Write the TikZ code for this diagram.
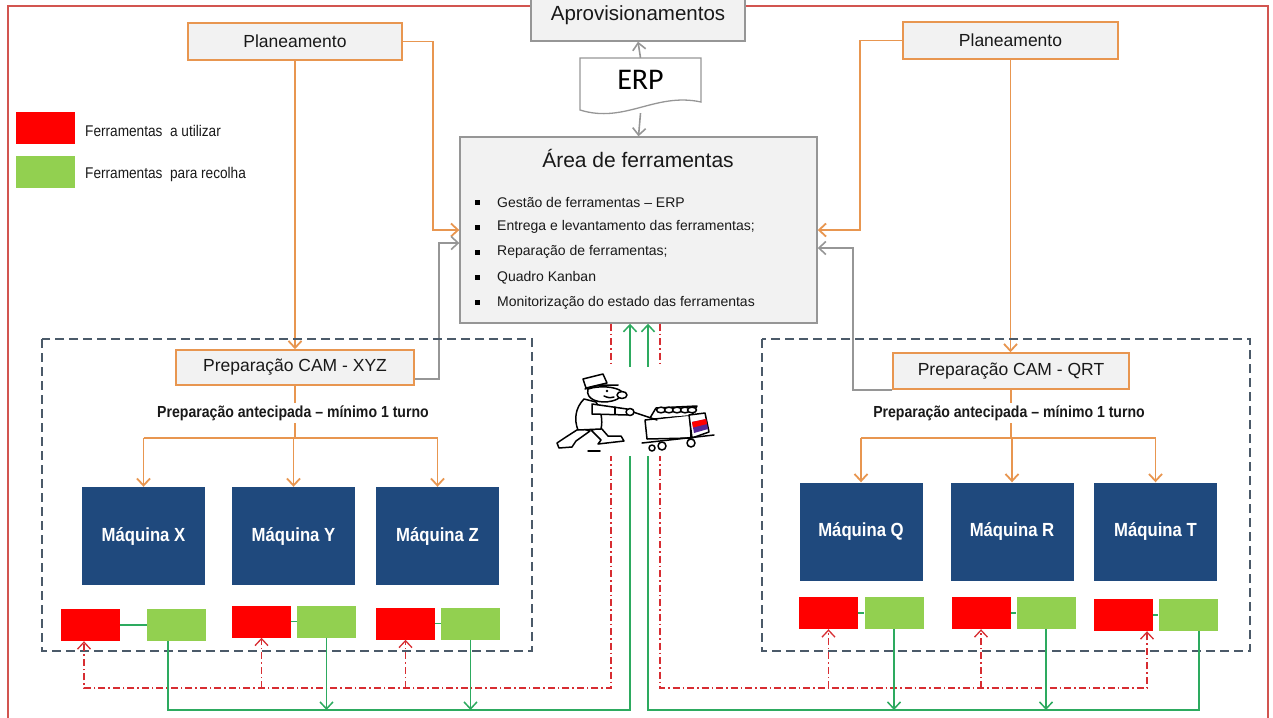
\documentclass[tikz,border=0pt]{standalone}
\usepackage{fontspec}
\setmainfont{Liberation Sans}
\newfontfamily\narrowfont{Liberation Sans}[FakeStretch=0.88]
\newfontfamily\erpfont{Carlito}
\usetikzlibrary{arrows.meta}

\definecolor{planorange}{RGB}{232,150,80}
\definecolor{boxgray}{RGB}{242,242,242}
\definecolor{linegray}{RGB}{150,150,150}
\definecolor{groupgray}{RGB}{75,90,105}
\definecolor{machblue}{RGB}{31,73,125}
\definecolor{toolred}{RGB}{255,0,0}
\definecolor{toolgreen}{RGB}{146,208,80}
\definecolor{givegreen}{RGB}{45,170,95}
\definecolor{takered}{RGB}{215,45,50}
\definecolor{framered}{RGB}{210,85,80}
\definecolor{inkgray}{RGB}{25,25,25}
\definecolor{cartpurple}{RGB}{85,40,150}

\tikzset{
 planbox/.style={draw=planorange, fill=boxgray, line width=1.5pt, inner sep=0pt, text=inkgray, font=\fontsize{17.5}{20}\selectfont},
 graybox/.style={draw=linegray, fill=boxgray, line width=1.4pt, inner sep=0pt, text=inkgray},
 machine/.style={fill=machblue, text=white, inner sep=0pt, minimum width=123pt, minimum height=98pt, font=\narrowfont\bfseries\fontsize{19}{22}\selectfont},
 tool/.style={inner sep=0pt, minimum width=59pt, minimum height=32pt},
 keytext/.style={anchor=west, inner sep=0pt, text=inkgray, font=\narrowfont\fontsize{15.5}{18}\selectfont},
 leadtext/.style={fill=white, inner sep=2pt, text=inkgray, font=\narrowfont\bfseries\fontsize{16}{19}\selectfont},
 listitem/.style={anchor=west, inner sep=0pt, text=inkgray, font=\fontsize{14}{16}\selectfont},
 bulletsq/.style={fill=black, inner sep=0pt, minimum size=5pt},
 feedline/.style={planorange, line width=1.8pt},
 backline/.style={linegray, line width=1.6pt},
 takeline/.style={takered, line width=1.3pt, dash pattern=on 7pt off 3pt on 1.5pt off 3pt},
 giveline/.style={givegreen, line width=1.5pt},
 groupframe/.style={groupgray, line width=1.3pt, dash pattern=on 9pt off 5pt},
 sketch/.style={black, line width=1.5pt, line join=round, line cap=round},
}

\begin{document}
\begin{tikzpicture}[x=1pt, y=-1pt, >={Straight Barb[length=7pt,width=13pt]}]
\useasboundingbox (0,0) rectangle (1273,717);

% outer frame, open at the bottom
\draw[framered, line width=1.5pt] (8,730) -- (8,6) -- (1268,6) -- (1268,730);

% legend
\node[tool, fill=toolred] (keyred) at (45,128) {};
\node[tool, fill=toolgreen] (keygreen) at (45,172) {};
\node[keytext] (keyredtxt) at (85,131) {Ferramentas~ a utilizar};
\node[keytext] (keygreentxt) at (85,174) {Ferramentas~ para recolha};

% central tool area
\node[graybox, minimum width=214pt, minimum height=51pt, font=\fontsize{20.5}{24}\selectfont] (aprov) at (638,15.5) {Aprovisionamentos};
\draw[linegray, line width=1.3pt] (580,110) -- (580,58) -- (701,58) -- (701,102)
  .. controls (655,92) and (625,124) .. cycle;
\node[inner sep=0pt, minimum width=121pt, minimum height=52pt, text height=19pt, text depth=8pt, font=\erpfont\fontsize{30}{34}\selectfont] (erp) at (640.5,84) {ERP};
\node[graybox, minimum width=357pt, minimum height=186pt] (area) at (638.5,230) {};
\node[text=inkgray, font=\fontsize{21}{24}\selectfont] (areatitle) at (638,158) {Área de ferramentas};
\foreach \t [count=\i] in {Gestão de ferramentas – ERP, Entrega e levantamento das ferramentas;, Reparação de ferramentas;, Quadro Kanban, Monitorização do estado das ferramentas} {
  \node[bulletsq] (dot\i) at (477,176.8+25.2*\i) {};
  \node[listitem] (item\i) at (497,176.8+25.2*\i) {\t};
}
\draw[backline, ->] (erp.north) -- (aprov.south);
\draw[backline, ->] ([yshift=-3pt]erp.south) -- (area.north);

% planning boxes
\node[planbox, minimum width=214pt, minimum height=37pt] (planL) at (295,41.5) {Planeamento};
\node[planbox, minimum width=215pt, minimum height=37pt] (planR) at (1010.5,40.5) {Planeamento};
\node[planbox, minimum width=238pt, minimum height=35pt] (prepL) at (295,367.5) {Preparação CAM - XYZ};
\node[planbox, minimum width=236pt, minimum height=36pt] (prepR) at (1011,371) {Preparação CAM - QRT};

\draw[feedline, ->] (planL.east) -- ++(30,0) |- (area.west);
\draw[feedline, ->] (planR.west) -- ++(-42,0) |- (area.east);
\draw[feedline, ->] (planL.south) -- (prepL.north);
\draw[feedline, ->] (planR.south) -- (planR.south |- prepR.north);
\draw[backline, ->] ([yshift=-11.5pt]prepL.east) -- ++(24,0) |- ([yshift=-13pt]area.west);
\draw[backline, ->] (prepR.south west) -- ++(-39,0) |- ([yshift=-18pt]area.east);

% cells
\draw[groupframe] (42,339) rectangle (532,651);
\draw[groupframe] (762,339) rectangle (1250,651);

\foreach \m/\x/\y in {X/143.5/536, Y/293.5/536, Z/437.5/536, Q/861/531.5, R/1012/531.5, T/1155.5/531.5}
  \node[machine] (m\m) at (\x,\y) {Máquina \m};

\foreach \m/\rx/\gx/\y in {X/90.5/176.5/625, Y/261.5/326.5/621.5, Z/405.5/470.5/623.5, Q/828.5/894/613, R/981/1046/613, T/1123.5/1188/615} {
  \node[tool, fill=toolred] (r\m) at (\rx,\y) {};
  \node[tool, fill=toolgreen] (g\m) at (\gx,\y) {};
  \draw[giveline] (r\m) -- (g\m);
}

\draw[feedline] (prepL.south) -- ++(0,52) coordinate (forkL);
\draw[feedline] (forkL -| mX.north) -- (forkL -| mZ.north);
\foreach \m in {X,Y,Z} \draw[feedline, ->] (forkL -| m\m.north) -- (m\m.north);
\draw[feedline] (prepR.south) -- ++(0,48) coordinate (forkR);
\draw[feedline] (forkR -| mQ.north) -- (forkR -| mT.north);
\foreach \m in {Q,R,T} \draw[feedline, ->] (forkR -| m\m.north) -- (m\m.north);

\node[leadtext] (leadL) at (293,413) {Preparação antecipada – mínimo 1 turno};
\node[leadtext] (leadR) at (1009,413) {Preparação antecipada – mínimo 1 turno};

% delivery and pick-up loops
\coordinate (busR) at (0,688);
\coordinate (busG) at (0,710);
\coordinate (takeL) at ([xshift=-27.5pt]area.south);
\coordinate (giveL) at ([xshift=-8.5pt]area.south);
\coordinate (giveR) at ([xshift=9.5pt]area.south);
\coordinate (takeR) at ([xshift=21.5pt]area.south);
\coordinate (rXin) at ([xshift=-6.5pt]rX.south);
\coordinate (gXout) at ([xshift=-8.5pt]gX.south);
\coordinate (rTin) at ([xshift=23.5pt]rT.south);
\coordinate (gTout) at ([xshift=11pt]gT.south);

\draw[takeline, ->] (takeL) |- (rXin |- busR) -- (rXin);
\draw[takeline, ->] (takeR) |- (rTin |- busR) -- (rTin);
\foreach \m in {Y,Z,Q,R} \draw[takeline, ->] (r\m.south |- busR) -- (r\m.south);

\draw[giveline, ->] (gXout) |- (giveL |- busG) -- (giveL);
\draw[giveline, ->] (gTout) |- (giveR |- busG) -- (giveR);
\foreach \m in {Y,Z,Q,R} \draw[giveline, ->] (g\m.south) -- (g\m.south |- busG);

% worker with tool trolley
\fill[white] (553,367) rectangle (722,456);
% trolley
\draw[sketch, fill=white] (645,420) -- (690,415) -- (691,438) -- (647,439) -- cycle;
\draw[sketch, fill=white] (650,418) -- (656,408) -- (697,406) -- (692,415);
\foreach \c in {661,669,677,685,692}
  \draw[sketch, fill=white] (\c,410) ellipse [x radius=4.5pt, y radius=2.8pt];
\draw[sketch, fill=white] (689,415) -- (705,413) -- (709,432) -- (692,438) -- cycle;
\fill[cartpurple] (692,422) -- (706,419) -- (708,429) -- (694,433) -- cycle;
\fill[toolred] (692,422) -- (706,419) -- (707,424) -- (693,427.5) -- cycle;
\draw[sketch] (642,443) -- (714,435);
\draw[sketch, fill=white] (652,448) circle (3pt);
\draw[sketch, fill=white] (662,446) circle (4pt);
\draw[sketch, fill=white] (691,443) circle (4pt);
\draw[sketch] (633,412) -- (657,420);
% man
\draw[sketch, fill=white] (580,428) -- (566,437) -- (557,443) -- (559,448) -- (572,447) -- (576,441) -- (590,431) -- cycle;
\draw[sketch, fill=white] (591,430) -- (601,440) -- (598,444) -- (624,441) -- (621,436) -- (608,436) -- (601,428) -- cycle;
\draw[sketch, fill=white] (584,399) .. controls (575,408) and (574,420) .. (578,430) -- (601,429) .. controls (603,420) and (601,410) .. (596,402) -- cycle;
\draw[sketch, fill=white] (592,404) -- (627,409) -- (627,415) -- (592,414) -- cycle;
\draw[sketch] (615,407) -- (615,414);
\draw[sketch, fill=white] (630,412) ellipse [x radius=4pt, y radius=3.5pt];
\draw[sketch, fill=white] (588,389) .. controls (585,400) and (600,404) .. (612,401)
  .. controls (620,399) and (624,395) .. (621,391) .. controls (616,387) and (600,385) .. cycle;
\draw[sketch, fill=white] (622,395) ellipse [x radius=5pt, y radius=3.5pt];
\fill (607,391) circle (1.3pt);
\draw[sketch] (604,396) .. controls (609,398) .. (614,397);
\draw[sketch, fill=white] (583,379) -- (603,374) -- (607,383) -- (586,388) -- cycle;
\draw[sketch] (585,389) .. controls (598,385) .. (618,385);
\draw[sketch] (588,451) -- (600,451);
\end{tikzpicture}
\end{document}
